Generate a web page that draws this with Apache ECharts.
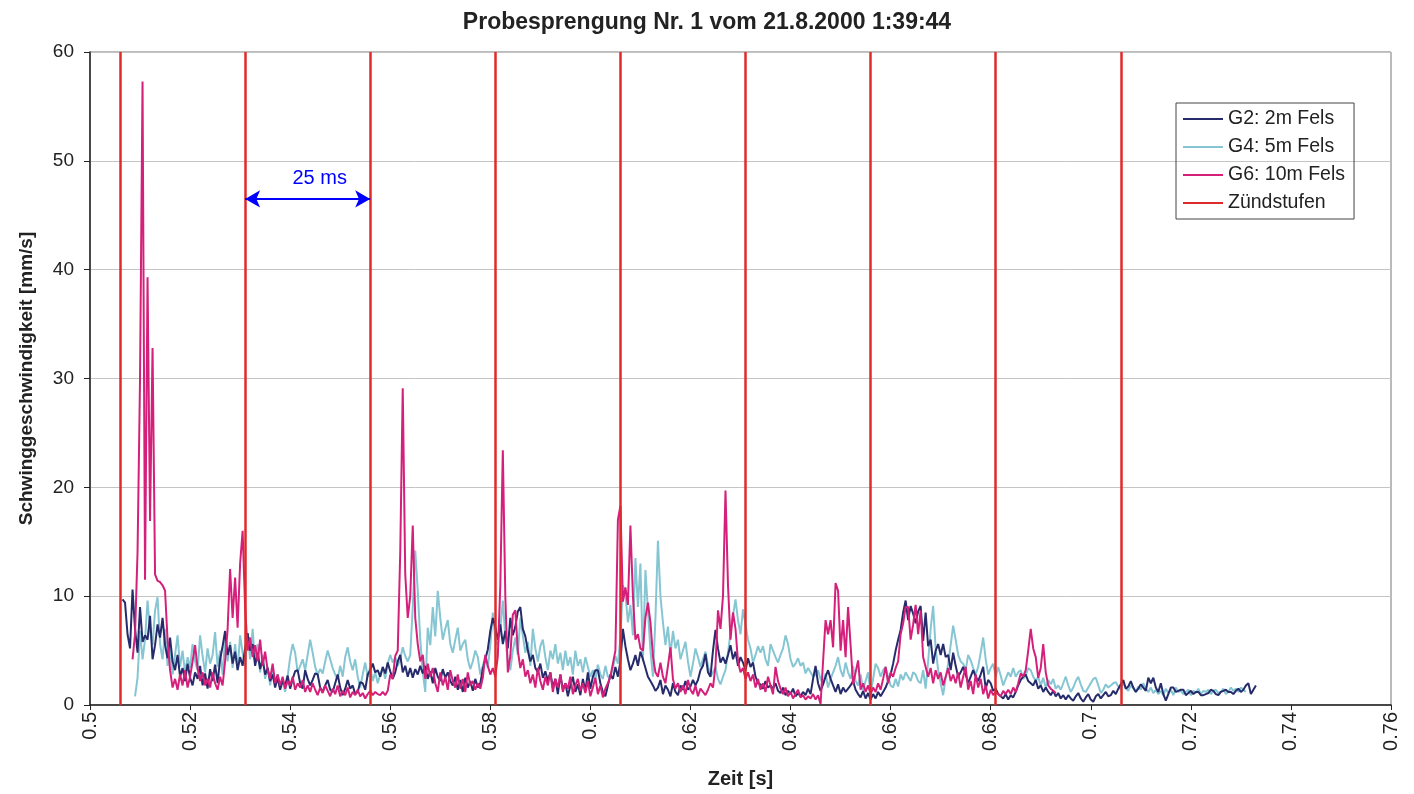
<!DOCTYPE html>
<html>
<head>
<meta charset="utf-8">
<title>Probesprengung Nr. 1</title>
<script src="https://cdn.jsdelivr.net/npm/echarts@6/dist/echarts.min.js"></script>
<style>
  html, body { margin: 0; padding: 0; background: #fff; }
  #chart { width: 1414px; height: 794px; }
</style>
</head>
<body>
<div id="chart"></div>
<script>
// Abtastschritt 0,5 ms
var step = 0.0005;

// G2: 2m Fels
var g2Start = 0.5065;
var g2Values = [
  9.7, 9.4, 6.5, 5.2, 10.6, 7.0, 4.8, 9.0, 5.8, 6.4,
  6.0, 8.2, 4.2, 5.5, 7.4, 6.2, 8.0, 5.5, 4.3, 6.2,
  4.0, 3.2, 4.6, 2.6, 3.4, 2.2, 3.8, 2.5, 1.8, 3.0,
  2.4, 3.6, 1.8, 2.9, 1.5, 3.3, 2.2, 3.7, 2.0, 4.2,
  5.4, 6.8, 4.6, 5.5, 3.8, 4.9, 3.2, 4.4, 3.6, 5.2,
  6.6, 5.0, 5.6, 3.6, 4.8, 3.3, 4.2, 2.8, 3.4, 2.2,
  2.8, 1.6, 2.5, 1.4, 2.2, 1.8, 2.7, 1.5, 2.4, 3.1,
  3.2, 2.0, 1.5, 3.2, 2.4, 1.8, 2.3, 2.9, 2.8, 1.6,
  1.2, 1.8, 2.3, 1.4, 1.2, 2.0, 2.8, 1.6, 0.9, 1.5,
  2.3, 1.5, 1.8, 1.0, 1.2, 2.1, 2.0, 1.4, 2.8, 3.2,
  3.8, 3.0, 3.2, 2.6, 3.5, 2.9, 3.9, 3.1, 2.4, 3.0,
  4.0, 4.6, 3.0, 3.6, 2.6, 3.4, 2.5, 3.3, 2.8, 3.6,
  2.9, 3.6, 2.4, 3.1, 2.0, 3.4, 2.6, 2.2, 3.3, 2.5,
  3.0, 2.2, 1.8, 2.6, 1.4, 2.3, 1.2, 2.5, 1.6, 2.2,
  1.3, 2.4, 1.6, 2.0, 3.3, 4.2, 5.1, 6.8, 8.0, 7.2,
  6.0, 7.4, 5.6, 6.8, 5.2, 8.0, 6.4, 7.2, 8.6, 9.0,
  7.0, 6.3, 5.0, 4.0, 4.6, 3.4, 3.0, 3.8, 2.5, 3.1,
  2.2, 3.0, 1.6, 2.4, 1.0, 2.8, 1.4, 2.0, 0.8, 1.8,
  2.6, 1.2, 1.9, 0.9, 2.4, 1.3, 3.0, 1.5, 2.6, 3.2,
  3.2, 2.0, 1.2, 0.8, 1.8, 2.8, 2.4, 3.5, 2.6, 4.0,
  7.0, 5.4, 4.2, 3.2, 3.8, 4.6, 3.6, 4.9, 4.2, 3.4,
  2.6, 2.2, 1.8, 1.3, 1.6, 2.3, 1.0, 1.8, 1.4, 0.8,
  2.0, 1.2, 0.9, 1.8, 1.4, 2.2, 1.4, 1.7, 2.3, 1.8,
  2.3, 3.2, 3.6, 4.7, 3.0, 2.6, 5.0, 6.9, 5.2, 3.9,
  4.4, 3.8, 4.6, 5.5, 4.2, 4.9, 3.6, 4.4, 3.9, 3.2,
  4.3, 3.5, 3.9, 2.6, 2.0, 1.9, 1.5, 2.2, 1.6, 1.8,
  1.5, 2.0, 1.3, 1.1, 1.6, 0.9, 1.3, 1.0, 1.5, 0.8,
  1.1, 0.8, 1.2, 0.9, 1.5, 1.0, 2.4, 3.6, 2.0, 1.3,
  1.9, 2.6, 3.2, 2.4, 1.8, 1.2, 1.9, 1.0, 1.6, 1.2,
  1.5, 1.8, 2.2, 1.4, 1.0, 0.7, 1.3, 0.6, 1.1, 0.5,
  1.0, 0.6, 1.2, 0.8, 1.2, 1.6, 2.2, 2.8, 3.8, 5.0,
  6.0, 6.9, 8.5, 9.6, 7.8, 9.1, 8.4, 7.5, 8.6, 9.1,
  5.9, 8.5, 5.4, 6.0, 3.8, 5.0, 5.6, 4.6, 5.6, 4.4,
  4.6, 3.2, 4.8, 3.6, 2.6, 3.0, 3.5, 2.8, 2.0, 2.6,
  3.2, 2.6, 2.2, 2.8, 3.5, 1.5, 2.3, 2.0, 1.3, 1.5,
  1.0, 0.8, 0.6, 1.0, 0.5, 0.9, 0.7, 1.2, 1.8, 2.3,
  2.6, 2.8, 2.2, 2.0, 1.8, 2.3, 1.5, 1.8, 1.2, 1.6,
  1.2, 0.9, 1.3, 0.8, 1.1, 0.6, 0.9, 0.5, 0.9, 0.6,
  0.4, 0.8, 1.1, 0.6, 0.3, 0.7, 1.0, 0.5, 0.3, 0.8,
  1.0, 0.6, 0.9, 1.2, 0.8, 0.9, 1.3, 1.0, 1.5, 1.9,
  2.3, 1.5, 1.7, 2.2, 1.6, 1.2, 1.5, 1.9, 1.6, 1.3,
  2.5, 2.0, 2.5, 1.6, 1.2, 2.0, 1.0, 0.4, 1.0, 1.6,
  1.6, 1.2, 1.3, 1.4, 1.4, 0.9, 1.1, 1.3, 1.0, 1.2,
  1.2, 0.9, 0.9, 1.0, 1.1, 1.4, 1.3, 1.0, 0.9, 1.2,
  1.3, 1.4, 1.2, 1.2, 1.0, 1.3, 1.5, 1.2, 1.4, 1.8,
  2.0, 1.0, 1.4, 1.8
];

// G4: 5m Fels
var g4Start = 0.509;
var g4Values = [
  0.8, 2.5, 6.8, 4.2, 6.0, 9.6, 6.8, 5.5, 8.7, 9.9,
  5.6, 4.2, 7.0, 3.6, 5.2, 2.8, 4.6, 6.4, 3.5, 5.0,
  2.9, 4.4, 3.4, 5.6, 4.0, 3.2, 6.4, 4.5, 3.0, 5.2,
  3.8, 4.6, 6.7, 3.5, 5.0, 2.8, 6.2, 4.0, 5.8, 3.4,
  5.6, 3.2, 6.4, 4.8, 3.6, 6.6, 4.2, 7.0, 3.8, 5.6,
  3.0, 4.6, 2.4, 3.5, 1.8, 3.2, 2.2, 2.8, 1.6, 2.3,
  1.2, 2.6, 4.4, 5.6, 4.8, 3.0, 3.6, 4.2, 3.2, 4.6,
  6.0, 4.8, 3.5, 2.8, 3.3, 2.9, 4.0, 5.0, 4.2, 3.4,
  2.8, 2.4, 3.6, 2.6, 4.4, 5.3, 4.0, 3.2, 4.2, 2.6,
  1.6, 2.8, 3.9, 2.6, 3.5, 2.2, 3.0, 2.0, 2.8, 3.4,
  2.4, 3.8, 4.6, 3.9, 4.4, 3.6, 4.2, 5.3, 4.5, 4.0,
  4.6, 9.0, 14.2, 10.5, 6.0, 3.0, 1.2, 7.1, 5.5, 9.0,
  6.3, 10.5, 8.0, 6.0, 7.0, 7.8, 5.6, 4.8, 6.0, 7.1,
  5.0, 5.6, 6.0, 4.2, 3.3, 4.0, 5.0, 4.4, 2.8, 3.6,
  4.5, 3.4, 5.5, 8.5, 6.0, 5.5, 7.0, 9.6, 6.2, 4.0,
  3.2, 5.0, 6.2, 4.6, 8.0, 6.4, 4.8, 5.8, 3.6, 7.0,
  5.2, 4.0, 5.4, 6.0, 4.4, 3.2, 5.0, 4.2, 5.6, 3.8,
  4.8, 3.2, 5.0, 3.6, 4.4, 2.8, 5.0, 3.6, 4.2, 3.0,
  4.4, 3.5, 2.6, 3.2, 2.4, 3.7, 2.8, 2.4, 3.6, 2.6,
  2.6, 3.4, 4.5, 3.8, 6.2, 11.0, 10.2, 7.6, 9.2, 6.4,
  13.5, 9.0, 13.0, 4.0, 12.4, 8.7, 5.0, 2.6, 8.0, 15.1,
  10.0, 7.6, 5.5, 7.2, 4.6, 6.8, 5.2, 6.0, 4.2, 5.0,
  5.8, 4.0, 2.6, 3.8, 5.2, 4.4, 3.5, 4.2, 4.9, 3.6,
  2.6, 3.0, 3.5, 2.4, 1.9, 2.6, 3.2, 4.8, 6.6, 8.2,
  9.7, 7.8, 6.5, 8.8, 7.4, 6.0, 5.2, 3.9, 4.6, 5.4,
  4.8, 5.4, 4.2, 3.6, 5.6, 5.0, 4.4, 3.9, 4.6, 5.2,
  6.4, 5.6, 4.2, 3.5, 3.8, 4.3, 3.6, 3.9, 2.9, 3.4,
  3.0, 2.6, 2.8, 3.2, 2.4, 2.0, 2.9, 1.6, 2.4, 3.0,
  3.6, 4.4, 3.2, 2.6, 3.9, 3.0, 2.4, 3.6, 2.2, 1.8,
  2.8, 1.4, 2.2, 3.0, 1.0, 2.4, 3.8, 3.4, 2.6, 3.2,
  3.5, 2.6, 1.8, 1.6, 2.4, 1.7, 2.8, 2.3, 3.0, 2.6,
  2.2, 3.0, 2.8, 2.2, 2.0, 3.2, 1.5, 4.0, 7.0, 9.1,
  5.2, 3.2, 2.0, 0.9, 2.5, 3.8, 5.5, 7.3, 6.0, 4.6,
  4.0, 3.8, 3.2, 4.6, 4.1, 3.4, 2.8, 3.5, 4.8, 6.2,
  4.2, 2.8, 3.4, 3.8, 2.6, 3.5, 2.7, 1.8, 2.4, 3.0,
  2.6, 3.4, 2.6, 3.0, 3.2, 2.4, 2.7, 3.4, 3.2, 2.6,
  2.2, 2.6, 1.8, 2.5, 1.6, 2.3, 1.9, 2.4, 1.5, 1.8,
  1.4, 2.0, 2.6, 1.8, 1.2, 1.6, 2.2, 2.6, 1.9, 1.3,
  1.2, 1.6, 2.0, 2.4, 2.5, 1.8, 1.1, 1.4, 1.9, 1.6,
  1.8, 2.0, 2.1, 1.7, 1.4, 2.0, 1.6, 1.3, 1.8, 1.5,
  1.2, 1.7, 1.4, 2.0, 1.5, 1.2, 1.6, 1.1, 1.4, 1.0,
  1.3, 0.9, 1.5, 1.1, 1.4, 0.9, 1.6, 1.2, 1.3, 1.0,
  1.2, 1.4, 0.9, 1.3, 1.1, 1.5, 1.0, 1.3, 1.2, 1.4,
  1.0, 1.3, 1.4, 1.1, 1.2, 1.5, 1.0, 1.2, 1.6, 1.3,
  1.5, 1.2, 1.6, 1.4, 1.2
];

// G6: 10m Fels
var g6Start = 0.5085;
var g6Values = [
  4.2, 6.5, 14.0, 30.0, 57.3, 11.5, 39.3, 16.9, 32.8, 12.0,
  11.4, 11.3, 11.0, 10.5, 6.0, 3.2, 1.6, 2.4, 1.4, 2.8,
  1.8, 3.2, 1.6, 2.6, 4.0, 5.5, 3.4, 2.2, 3.0, 1.8,
  2.4, 1.6, 3.0, 2.0, 1.4, 2.6, 1.8, 4.0, 7.0, 12.5,
  8.0, 11.7, 7.1, 13.0, 16.0, 9.0, 5.0, 6.2, 4.4, 5.5,
  4.0, 6.0, 3.6, 4.9, 3.2, 2.4, 3.8, 2.0, 2.8, 1.8,
  2.6, 1.5, 2.2, 1.8, 2.6, 1.4, 2.0, 1.6, 2.3, 1.2,
  1.8, 1.2, 2.0, 1.4, 0.9, 1.6, 1.1, 1.8, 1.3, 0.8,
  1.5, 1.0, 1.8, 0.8, 1.3, 0.9, 1.6, 0.7, 1.2, 0.9,
  1.4, 0.8, 1.1, 0.6, 1.0, 1.3, 0.9, 1.2, 1.0, 0.9,
  1.2, 0.9, 1.3, 2.8, 2.4, 4.5, 5.0, 14.0, 29.1, 12.0,
  8.0, 10.0, 16.5, 8.0, 5.6, 4.0, 4.6, 2.4, 3.8, 2.6,
  3.4, 2.0, 1.2, 3.0, 1.8, 2.6, 1.4, 3.2, 2.2, 1.6,
  2.8, 1.5, 2.4, 1.2, 3.0, 1.8, 2.2, 1.4, 2.0, 1.5,
  2.5, 4.6, 3.6, 2.8, 3.4, 2.6, 4.5, 11.0, 23.4, 10.0,
  3.0, 4.5, 8.3, 8.7, 5.0, 3.4, 4.2, 2.6, 3.2, 2.0,
  2.8, 1.6, 3.4, 2.2, 1.4, 2.6, 1.8, 3.0, 1.2, 2.4,
  1.6, 2.8, 1.2, 2.0, 1.5, 2.6, 1.0, 1.8, 2.4, 1.3,
  2.0, 1.1, 2.2, 0.8, 1.6, 2.5, 1.0, 1.8, 0.7, 1.5,
  2.0, 2.6, 3.8, 5.0, 17.0, 18.3, 9.5, 10.8, 9.2, 16.5,
  10.0, 6.0, 6.5, 5.2, 5.0, 8.0, 9.4, 7.6, 4.5, 3.0,
  2.6, 3.9, 2.6, 2.0, 3.6, 5.3, 2.4, 1.5, 2.0, 1.2,
  1.8, 1.0, 2.3, 1.4, 1.0, 1.8, 0.8, 1.5, 1.2, 0.9,
  1.4, 2.0, 1.6, 3.6, 8.7, 7.0, 10.0, 19.7, 11.0, 6.0,
  8.5, 7.0, 4.0, 3.0, 3.4, 2.4, 3.0, 2.2, 2.8, 1.6,
  2.4, 1.4, 2.0, 1.2, 2.6, 1.8, 1.0, 3.5, 2.2, 1.5,
  1.0, 1.6, 0.8, 1.2, 0.6, 1.0, 1.4, 0.7, 0.9, 0.5,
  0.8, 0.6, 1.0, 0.5, 0.9, 0.1, 4.0, 7.8, 6.5, 7.8,
  5.3, 11.2, 10.5, 5.0, 7.8, 4.4, 9.0, 5.5, 1.9, 3.0,
  4.1, 1.4, 2.0, 1.2, 1.8, 1.0, 1.6, 1.2, 2.0, 1.4,
  2.4, 3.5, 2.0, 3.0, 2.6, 3.4, 4.0, 6.5, 7.5, 9.0,
  9.0, 6.0, 7.4, 9.2, 6.5, 8.7, 4.4, 3.5, 2.6, 3.4,
  2.0, 3.2, 2.4, 3.0, 1.8, 2.6, 3.4, 2.2, 2.8, 2.0,
  3.0, 1.6, 2.6, 3.5, 1.4, 2.2, 1.0, 2.8, 1.6, 2.4,
  1.0, 1.8, 0.6, 1.4, 0.9, 1.2, 1.0, 0.8, 1.3, 1.0,
  1.4, 1.0, 1.6, 1.2, 2.0, 2.9, 2.6, 3.2, 5.0, 7.0,
  5.2, 4.4, 2.5, 3.4, 5.6, 3.0, 1.8, 1.5, 1.3, 1.1
];

// Zündstufen, alle 25 ms
var zuendTimes = [0.506, 0.531, 0.556, 0.581, 0.606, 0.631, 0.656, 0.681, 0.706];

// Maßpfeil "25 ms"
var arrowFrom = 0.531;
var arrowTo = 0.556;
var arrowLevel = 46.5;

var legendNames = ['G2: 2m Fels', 'G4: 5m Fels', 'G6: 10m Fels', 'Zündstufen'];

var font = 'Liberation Sans, Arial, Helvetica, sans-serif';

function toPoints(start, values) {
  return values.map(function (v, i) {
    return [+(start + i * step).toFixed(4), v];
  });
}

var chart = echarts.init(document.getElementById('chart'));

var option = {
  animation: false,
  backgroundColor: '#fff',
  title: {
    text: 'Probesprengung Nr. 1 vom 21.8.2000 1:39:44',
    left: 'center',
    top: 6,
    textStyle: { fontFamily: font, fontSize: 23, fontWeight: 'bold', color: '#222' }
  },
  legend: {
    data: legendNames,
    orient: 'vertical',
    left: 1176,
    top: 103,
    icon: 'rect',
    itemWidth: 40,
    itemHeight: 2,
    itemGap: 8,
    padding: [6, 9, 6, 7],
    borderColor: '#444',
    borderWidth: 1,
    selectedMode: false,
    textStyle: { fontFamily: font, fontSize: 19.5, color: '#222', lineHeight: 19 }
  },
  grid: {
    left: 90, right: 23, top: 52, bottom: 86,
    show: true, borderColor: '#777', borderWidth: 1
  },
  xAxis: {
    type: 'value',
    min: 0.5, max: 0.76, interval: 0.02,
    name: 'Zeit [s]',
    nameLocation: 'middle',
    nameGap: 64,
    nameTextStyle: { fontFamily: font, fontSize: 20, fontWeight: 'bold', color: '#222' },
    axisLine: { show: true, onZero: false, lineStyle: { color: '#222', width: 1.5 } },
    axisTick: { show: true, length: 5, lineStyle: { color: '#222' } },
    axisLabel: {
      rotate: 90, margin: 7, fontFamily: font, fontSize: 20, color: '#222',
      formatter: function (v) { return String(+v.toFixed(2)); }
    },
    splitLine: { show: false }
  },
  yAxis: {
    type: 'value',
    min: 0, max: 60, interval: 10,
    name: 'Schwinggeschwindigkeit [mm/s]',
    nameLocation: 'middle',
    nameGap: 54,
    nameTextStyle: { fontFamily: font, fontSize: 19, fontWeight: 'bold', color: '#222' },
    axisLine: { show: true, lineStyle: { color: '#222', width: 1.5 } },
    axisTick: { show: true, length: 6, lineStyle: { color: '#222' } },
    axisLabel: { margin: 16, fontFamily: font, fontSize: 19, color: '#222' },
    splitLine: { lineStyle: { color: '#c4c4c4', width: 1 } }
  },
  series: [
    {
      name: 'G4: 5m Fels', type: 'line', symbol: 'none',
      color: '#86c6d3', lineStyle: { width: 2 },
      data: toPoints(g4Start, g4Values)
    },
    {
      name: 'G2: 2m Fels', type: 'line', symbol: 'none',
      color: '#262b6b', lineStyle: { width: 2 },
      data: toPoints(g2Start, g2Values)
    },
    {
      name: 'G6: 10m Fels', type: 'line', symbol: 'none',
      color: '#d4207a', lineStyle: { width: 2 },
      data: toPoints(g6Start, g6Values)
    },
    {
      name: 'Zündstufen', type: 'line', symbol: 'none',
      color: '#e02a2a', data: [],
      markLine: {
        silent: true,
        symbol: ['none', 'none'],
        label: { show: false },
        lineStyle: { color: '#e02a2a', width: 2.5, type: 'solid' },
        data: zuendTimes.map(function (t) {
          return [{ coord: [t, 0] }, { coord: [t, 60] }];
        })
      },
      z: 5
    },
    {
      name: 'Abstand', type: 'line', symbol: 'none', data: [],
      markLine: {
        silent: true,
        symbol: ['arrow', 'arrow'],
        symbolSize: [13, 15],
        lineStyle: { color: '#0000ff', width: 2, type: 'solid' },
        label: {
          show: true, formatter: '25 ms', position: 'insideMiddleTop', distance: 10,
          color: '#0000ff', fontFamily: font, fontSize: 20, offset: [12, 0]
        },
        data: [[{ coord: [arrowFrom, arrowLevel] }, { coord: [arrowTo, arrowLevel] }]]
      },
      z: 6
    }
  ]
};

chart.setOption(option);
</script>
</body>
</html>
